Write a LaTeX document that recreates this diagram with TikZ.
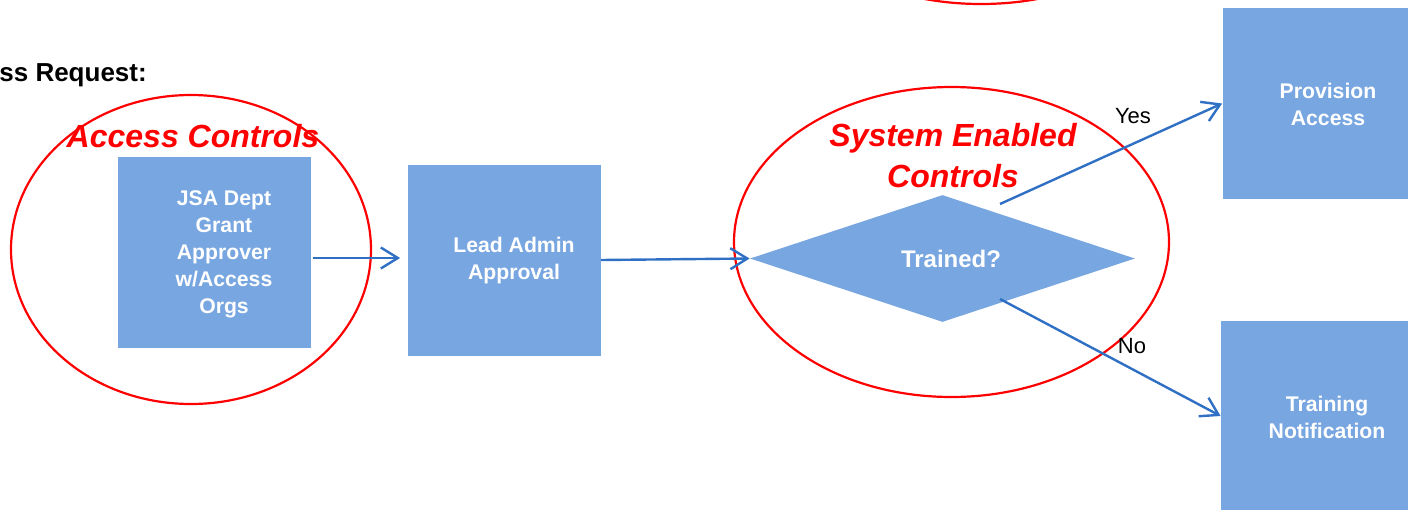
\documentclass[tikz,border=0pt]{standalone}
\usepackage{fontspec}
\setmainfont{Liberation Sans}
\usetikzlibrary{arrows.meta,shapes.geometric}
\definecolor{boxblue}{RGB}{120,166,224}
\definecolor{lineblue}{RGB}{47,112,196}
\begin{document}
\begin{tikzpicture}[x=0.5pt,y=-0.5pt,
  box/.style={fill=boxblue, draw=none, inner sep=0, minimum width=96.5pt, minimum height=95.5pt},
  boxtext/.style={text=white, font=\bfseries\fontsize{10.6}{13.5}\selectfont, align=center, inner sep=0},
  redell/.style={draw=red, line width=1.1pt, ellipse, inner sep=0},
  redtitle/.style={text=red, font=\bfseries\itshape\fontsize{16}{20.5}\selectfont, align=center, inner sep=0},
  flow/.style={draw=lineblue, line width=1.2pt, -{Straight Barb[length=8.5pt,width=10.5pt]}},
  lbl/.style={font=\fontsize{11}{13}\selectfont, inner sep=0}]
\useasboundingbox (0,0) rectangle (1408,509);
\clip (0,0) rectangle (1408,509);
% title
\node[anchor=base west, inner sep=0, font=\bfseries\fontsize{13}{15}\selectfont] (title) at (-1,81) {ss Request:};
% top ellipse fragment
\node[redell, minimum width=180pt, minimum height=100pt] (topell) at (981,-96) {};
% boxes
\node[box] (b1) at (214.5,252.5) {};
\node[boxtext] (b1t) at (224,254) {JSA Dept\\Grant\\Approver\\w/Access\\Orgs};
\node[box] (b2) at (504,260) {};
\node[boxtext] (b2t) at (514,261) {Lead Admin\\Approval};
\node[box, minimum width=97pt] (prov) at (1319.5,103.5) {};
\node[boxtext] (provt) at (1328,104) {Provision\\Access};
\node[box, minimum width=97pt] (train) at (1318,416) {};
\node[boxtext] (traint) at (1327,417) {Training\\Notification};
% diamond
\node[diamond, fill=boxblue, draw=none, inner sep=0, minimum width=192.5pt, minimum height=63.5pt] (dia) at (942.5,258.5) {};
\node[text=white, font=\bfseries\fontsize{12}{14}\selectfont, inner sep=0] (diat) at (951,259) {Trained?};
% red ellipses
\node[redell, minimum width=180pt, minimum height=154.5pt] (ell1) at (191,249.5) {};
\node[redell, minimum width=217.5pt, minimum height=155pt] (ell2) at (951.5,242) {};
\node[redtitle, anchor=base] (t1) at (193,147) {Access Controls};
\node[redtitle] (t2) at (953,156) {System Enabled\\Controls};
% connectors
\coordinate (yesS) at (1000,204);
\coordinate (noS) at (1000,299);
\draw[flow] ([shift={(1pt,-2.75pt)}]b1.east) -- ([shift={(-3.5pt,1pt)}]b2.west);
\draw[flow] (b2.east) -- (dia.west);
\draw[flow] (yesS) -- (prov.west);
\draw[flow] (noS) -- (train.west);
\node[lbl] (yes) at (1133,116) {Yes};
\node[lbl] (no) at (1132,346) {No};
\end{tikzpicture}
\end{document}
